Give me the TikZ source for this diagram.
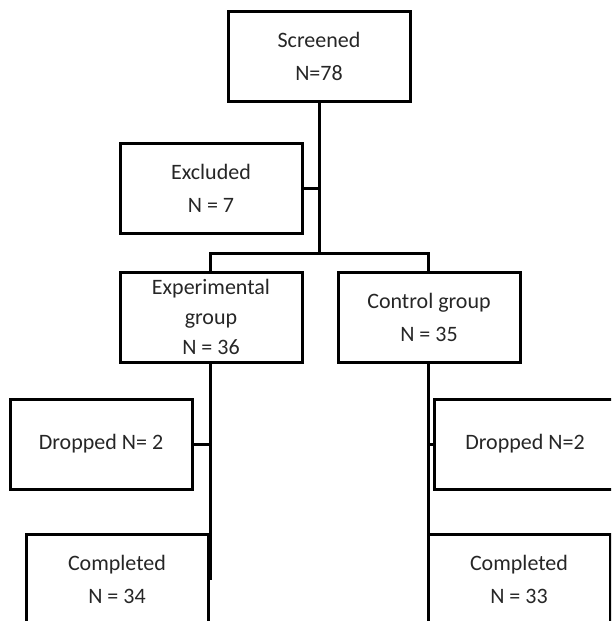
\documentclass[tikz,border=0pt]{standalone}
\usepackage{fontspec}
\setmainfont{Carlito}
\begin{document}
\begin{tikzpicture}[x=1pt, y=-1pt,
		box/.style={draw, line width=3pt, minimum width=182pt, minimum height=90pt,
			inner sep=0pt, align=center, text=black!85, font=\fontsize{22}{33}\selectfont},
		link/.style={line width=3pt}]
		% Frame of the picture
		\useasboundingbox (0,0) rectangle (611,621);
		\clip (0,0) rectangle (611,621);
		
		% Define boxes
		\node[box] (scr)   at (319,56)  {Screened\\N=78};
		\node[box] (excl)  at (211,188) {Excluded\\N = 7};
		\node[box, font=\fontsize{22}{30}\selectfont] (exp) at (211,317) {Experimental\\group\\N = 36};
		\node[box] (ctrl)  at (429,317) {Control group\\N = 35};
		\node[box] (dropE) at (101,444) {Dropped N= 2};
		\node[box] (dropC) at (525,444) {Dropped N=2};
		\node[box] (compE) at (117,579) {Completed\\N = 34};
		\node[box] (compC) at (519,579) {Completed\\N = 33};
		
		% Define coordinates
		\coordinate (split) at (319,253);
		\coordinate (endE) at (210,580);
		\coordinate (endC) at (428,580);
		
		% Main trunk
		\draw[link] (scr.south) -- (split);
		\draw[link] (excl.east) -- (excl.east -| split);
		
		% Branches to groups
		\draw[link] (exp.north -| endE) |- (split) -| (ctrl.north -| endC);
		
		% Group lines
		\draw[link] (exp.south -| endE) -- (endE);
		\draw[link] (ctrl.south -| endC) -- (endC);
		\draw[link] (dropE.east) -- (dropE.east -| endE);
		\draw[link] (dropC.west) -- (dropC.west -| endC);
	\end{tikzpicture}
\end{document}
